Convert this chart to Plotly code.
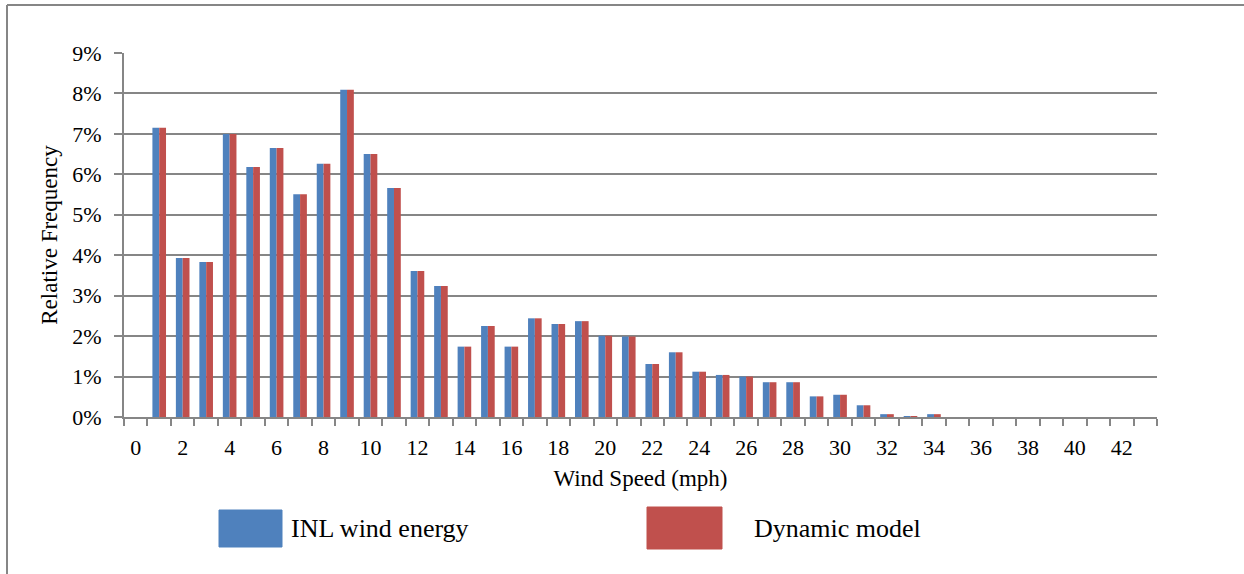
import plotly.graph_objects as go

# ---- data ----
wind_speed = list(range(0, 44))
inl_wind_energy = [0.00, 7.15, 3.93, 3.83, 7.00, 6.18, 6.65, 5.51, 6.26, 8.09,
                   6.50, 5.66, 3.61, 3.24, 1.74, 2.25, 1.74, 2.44, 2.30, 2.37,
                   2.01, 1.99, 1.31, 1.60, 1.12, 1.04, 1.00, 0.86, 0.86, 0.51,
                   0.55, 0.29, 0.07, 0.01, 0.07, 0, 0, 0, 0, 0,
                   0, 0, 0, 0]
dynamic_model = [0.00, 7.15, 3.93, 3.83, 7.00, 6.18, 6.65, 5.51, 6.26, 8.09,
                 6.50, 5.66, 3.61, 3.24, 1.74, 2.25, 1.74, 2.44, 2.30, 2.37,
                 2.01, 1.99, 1.31, 1.60, 1.12, 1.04, 1.00, 0.86, 0.86, 0.51,
                 0.55, 0.29, 0.07, 0.01, 0.07, 0, 0, 0, 0, 0,
                 0, 0, 0, 0]
series_names = ["INL wind energy", "Dynamic model"]
series_colors = ["#4F81BD", "#C0504D"]
x_ticks = list(range(0, 44, 2))
y_ticks = list(range(0, 10))
y_ticklabels = [f"{v}%" for v in y_ticks]

W, H = 1244, 574
L, R, T, B = 124, 87, 53, 157
pw, ph = W - L - R, H - T - B

def px_x(px):
    return (px - L) / pw

def px_y(py):
    return (H - B - py) / ph

font_family = "Liberation Serif"

fig = go.Figure()
for name, vals, col in zip(series_names, [inl_wind_energy, dynamic_model], series_colors):
    fig.add_trace(go.Bar(x=wind_speed, y=vals, name=name, marker_color=col,
                         marker_line_width=0))

fig.update_layout(
    width=W, height=H,
    margin=dict(l=L, r=R, t=T, b=B, pad=0),
    paper_bgcolor="white", plot_bgcolor="white",
    barmode="group", bargap=0.42, bargroupgap=0,
    showlegend=False,
    font=dict(family=font_family, size=22, color="black"),
)
fig.update_xaxes(
    range=[-0.5, 43.5], tickmode="array", tickvals=x_ticks,
    ticktext=[str(v) for v in x_ticks], ticks="",
    ticklabelstandoff=10,
    showline=True, linecolor="#868686", linewidth=2,
    showgrid=False, zeroline=False,
    tickfont=dict(family=font_family, size=22),
    title=dict(text="Wind Speed (mph)", font=dict(family=font_family, size=23), standoff=10),
    minor=dict(tickmode="array", tickvals=[v + 0.5 for v in range(-1, 44)],
               ticks="outside", ticklen=7, tickcolor="#868686", tickwidth=2, showgrid=False),
)
fig.update_yaxes(
    range=[0, 9], tickmode="array", tickvals=y_ticks, ticktext=y_ticklabels,
    ticks="outside", ticklen=8, tickcolor="#868686", tickwidth=2,
    ticklabelstandoff=8,
    showline=True, linecolor="#868686", linewidth=2,
    showgrid=True, gridcolor="#868686", gridwidth=2,
    zeroline=False, tickfont=dict(family=font_family, size=22),
    title=dict(text="Relative Frequency", font=dict(family=font_family, size=23), standoff=8),
)

# outer border (top and left)
fig.add_shape(type="line", xref="paper", yref="paper",
              x0=px_x(7), x1=px_x(W + 5), y0=px_y(5), y1=px_y(5),
              line=dict(color="#868686", width=2))
fig.add_shape(type="line", xref="paper", yref="paper",
              x0=px_x(7), x1=px_x(7), y0=px_y(5), y1=px_y(H + 5),
              line=dict(color="#868686", width=2))

# custom legend
legend_boxes = [(219, 282, 510, 547), (647, 722, 507, 549)]
legend_text_x = [289, 752]
for name, col, (x0, x1, y0, y1), tx in zip(series_names, series_colors, legend_boxes, legend_text_x):
    fig.add_shape(type="rect", xref="paper", yref="paper",
                  x0=px_x(x0), x1=px_x(x1), y0=px_y(y1), y1=px_y(y0),
                  fillcolor=col, line=dict(color=col, width=1))
    fig.add_annotation(xref="paper", yref="paper", x=px_x(tx), y=px_y((y0 + y1) / 2),
                       text=name, showarrow=False, xanchor="left", yanchor="middle",
                       font=dict(size=26, family=font_family, color="black"))

fig.write_html("out.html", config={"displayModeBar": False},
               post_script="document.body.style.margin='0';")
